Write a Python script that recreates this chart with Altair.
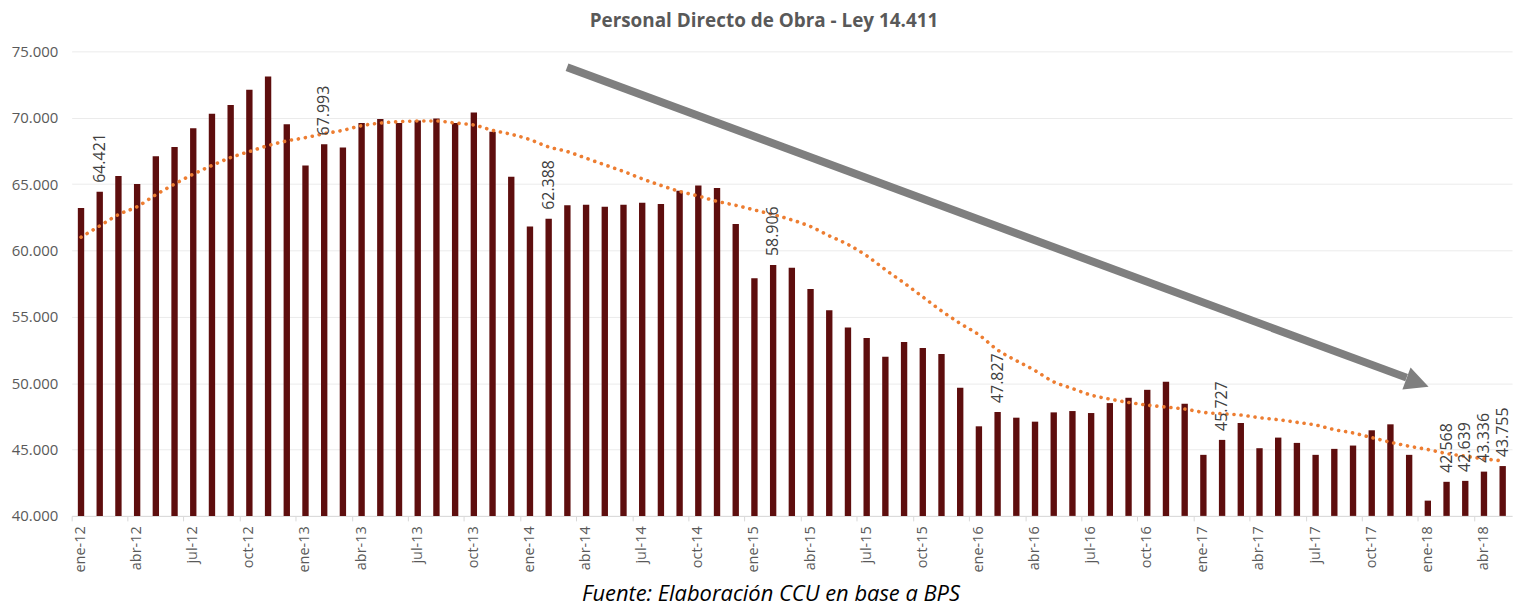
import altair as alt
import pandas as pd

meses = ["ene", "feb", "mar", "abr", "may", "jun", "jul", "ago", "sep", "oct", "nov", "dic"]
anios = ["12", "13", "14", "15", "16", "17", "18"]
periodos = [f"{m}-{a}" for a in anios for m in meses][:77]

valores = [
    63200, 64421, 65600, 65000, 67100, 67800, 69200, 70300, 70950, 72100, 73100, 69500,  # 2012
    66400, 67993, 67750, 69600, 69900, 69600, 69800, 69950, 69600, 70400, 68950, 65550,  # 2013
    61800, 62388, 63400, 63450, 63300, 63450, 63600, 63500, 64500, 64900, 64700, 62000,  # 2014
    57900, 58906, 58700, 57100, 55500, 54200, 53400, 52000, 53100, 52650, 52200, 49650,  # 2015
    46750, 47827, 47400, 47100, 47800, 47900, 47750, 48500, 48900, 49500, 50100, 48450,  # 2016
    44600, 45727, 47000, 45100, 45900, 45500, 44600, 45050, 45300, 46450, 46900, 44600,  # 2017
    41150, 42568, 42639, 43336, 43755,                                                    # 2018
]

# tendencia (línea punteada), un valor por mes
tendencia = [
    61000, 61850, 62700, 63300, 64200, 65000, 65750, 66400, 67000, 67450, 67900, 68250,  # 2012
    68500, 68800, 69050, 69400, 69600, 69700, 69750, 69750, 69600, 69450, 69050, 68750,  # 2013
    68350, 67800, 67450, 66950, 66450, 65950, 65400, 64900, 64450, 64100, 63700, 63400,  # 2014
    63050, 62700, 62300, 61800, 61100, 60450, 59600, 58550, 57550, 56500, 55450, 54500,  # 2015
    53650, 52500, 51700, 50950, 50100, 49600, 49100, 48800, 48550, 48350, 48200, 48050,  # 2016
    47800, 47700, 47600, 47400, 47250, 47050, 46850, 46500, 46250, 45900, 45550, 45250,  # 2017
    45000, 44700, 44500, 44300, 44150,                                                    # 2018
]

etiquetados = ["feb-12", "feb-13", "feb-14", "feb-15", "feb-16", "feb-17",
               "feb-18", "mar-18", "abr-18", "may-18"]
ticks_y = [40000, 45000, 50000, 55000, 60000, 65000, 70000, 75000]
ticks_x = periodos[::3]

titulo = "Personal Directo de Obra - Ley 14.411"
fuente = "Fuente: Elaboración CCU en base a BPS"

df = pd.DataFrame({"mes": periodos, "valor": valores, "tendencia": tendencia})
df["etiqueta"] = df["mes"].isin(etiquetados)

W, H = 1448, 467
fmt_expr = "replace(format(datum.value, ',.0f'), ',', '.')"

y_enc = alt.Y(
    "valor:Q",
    scale=alt.Scale(domain=[40000, 75000], zero=False, nice=False),
    axis=alt.Axis(values=ticks_y, title=None, labelExpr=fmt_expr, ticks=False, domain=False,
                  gridColor="#ebebeb", labelColor="#595959", labelFont="Open Sans",
                  labelFontSize=15, labelPadding=14),
)

band_scale = alt.Scale(domain=periodos, paddingInner=0, paddingOuter=0)

base = alt.Chart(df)

bars = base.mark_bar(width={"band": 0.34}, color="#5E0E0E").encode(
    x=alt.X("mes:O", sort=periodos, scale=band_scale,
            axis=alt.Axis(values=ticks_x, title=None, labelAngle=-90, bandPosition=0,
                          tickSize=5, tickColor="#d9d9d9", domainColor="#d9d9d9",
                          labelColor="#595959", labelFont="Open Sans", labelFontSize=14.5,
                          labelPadding=5, grid=False)),
    y=y_enc,
    y2=alt.datum(40000),
)

trend = base.mark_line(color="#ED7D31", strokeWidth=3.6, strokeDash=[0.1, 7],
                       strokeCap="round", interpolate="monotone").encode(
    x=alt.X("mes:O", sort=periodos, scale=band_scale),
    y=alt.Y("tendencia:Q"),
)

labels = base.transform_filter("datum.etiqueta").transform_calculate(
    lbl="replace(format(datum.valor, ',.0f'), ',', '.')"
).mark_text(angle=270, align="left", baseline="middle", dx=9, font="Open Sans",
            fontSize=16, color="#404040").encode(
    x=alt.X("mes:O", sort=periodos, scale=band_scale),
    y=alt.Y("valor:Q"),
    text=alt.Text("lbl:N"),
)

one = alt.Data(values=[{"k": 1}])

shaft = alt.Chart(one).mark_rule(color="#7f7f7f", strokeWidth=8).encode(
    x=alt.value(498), y=alt.value(16), x2=alt.value(1342), y2=alt.value(328)
)
head = alt.Chart(one).mark_point(shape="M-1,-1L1,0L-1,1Z", filled=True, opacity=1,
                                 color="#7f7f7f", size=560, angle=20.3).encode(
    x=alt.value(1353), y=alt.value(333)
)

title_mark = alt.Chart(one).mark_text(text=titulo, font="Open Sans", fontSize=19,
                                      fontWeight="bold", color="#595959",
                                      align="center", baseline="alphabetic").encode(
    x=alt.value(696), y=alt.value(-24)
)
footer = alt.Chart(one).mark_text(text=fuente, font="Open Sans", fontSize=22, fontStyle="italic",
                                  color="#000000", align="center", baseline="alphabetic").encode(
    x=alt.value(703), y=alt.value(553)
)

chart = alt.layer(bars, trend, labels, shaft, head, title_mark, footer).properties(
    width=W, height=H,
    padding={"left": 64, "top": 42, "right": 5, "bottom": 92},
    autosize=alt.AutoSizeParams(type="none"),
).configure_view(stroke=None)

chart.save("out.html", embed_options={"renderer": "svg", "actions": False})
